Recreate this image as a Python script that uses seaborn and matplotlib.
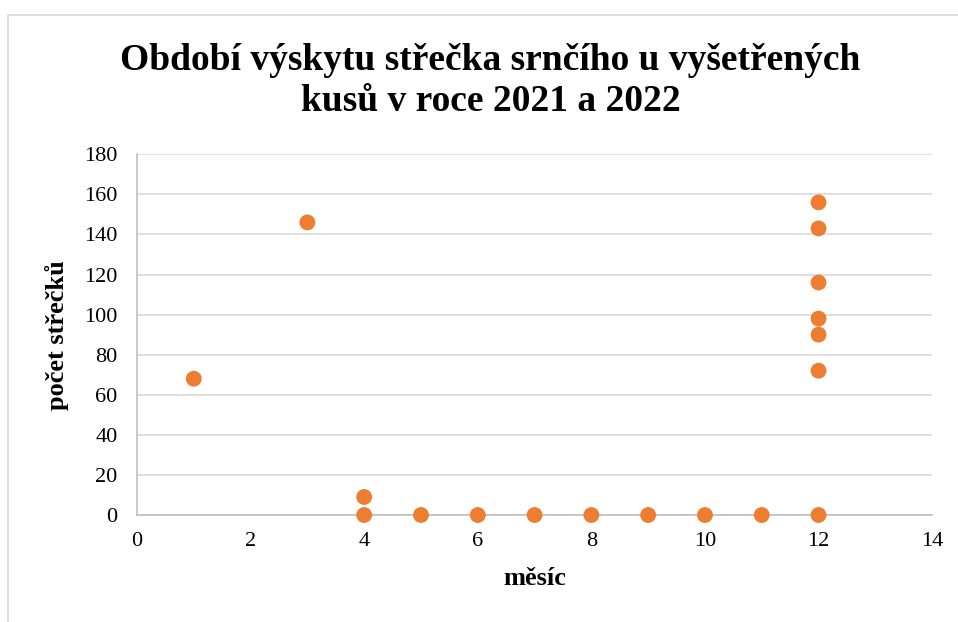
import matplotlib
matplotlib.use("Agg")
import matplotlib.pyplot as plt
import seaborn as sns
import pandas as pd
from matplotlib.patches import Rectangle

# Data
mesic = [1, 3, 4, 4, 5, 6, 7, 8, 9, 10, 11, 12, 12, 12, 12, 12, 12, 12]
pocet = [68, 146, 9, 0, 0, 0, 0, 0, 0, 0, 0, 156, 143, 116, 98, 90, 72, 0]
x_ticks = [0, 2, 4, 6, 8, 10, 12, 14]
y_ticks = [0, 20, 40, 60, 80, 100, 120, 140, 160, 180]

title = "Období výskytu střečka srnčího u vyšetřených\nkusů v roce 2021 a 2022"
xlabel = "měsíc"
ylabel = "počet střečků"

df = pd.DataFrame({"mesic": mesic, "pocet": pocet})

sns.set_theme(style="white")
plt.rcParams['font.family'] = ['Liberation Serif', 'DejaVu Serif']
plt.rcParams['text.color'] = '#000000'
plt.rcParams['axes.labelcolor'] = '#000000'

fig = plt.figure(figsize=(9.58, 6.22), dpi=100)
ax = fig.add_axes([0.143, 0.172, 0.830, 0.580])

sns.scatterplot(data=df, x="mesic", y="pocet", ax=ax, color="#ED7D31",
                s=130, edgecolor="none", zorder=3, clip_on=False)

ax.set_xlim(0, 14)
ax.set_ylim(0, 180)
ax.set_xticks(x_ticks)
ax.set_yticks(y_ticks)
ax.tick_params(axis='both', labelsize=16, labelcolor="#000000", length=0)
ax.tick_params(axis='x', pad=12)
ax.tick_params(axis='y', pad=14)
ax.yaxis.grid(True, color="#D9D9D9", linewidth=1.2)
ax.xaxis.grid(False)
for side in ["top", "right"]:
    ax.spines[side].set_visible(False)
for side in ["left", "bottom"]:
    ax.spines[side].set_color("#BFBFBF")
    ax.spines[side].set_linewidth(1.2)
ax.set_axisbelow(True)

ax.set_xlabel(xlabel, fontsize=19, fontweight="bold", labelpad=12, color="#000000")
ax.set_ylabel(ylabel, fontsize=19, fontweight="bold", labelpad=11, color="#000000")

fig.text(0.512, 0.870, title, ha="center", va="center", fontsize=27,
         fontweight="bold", linespacing=1.2, color="#000000")

# chart frame
fig.patches.append(Rectangle((8 / 958, -0.05), 1.2, (622 - 15) / 622 + 0.05,
                             transform=fig.transFigure, fill=False,
                             edgecolor="#D9D9D9", linewidth=1.2))

fig.savefig("out.png", dpi=100)
